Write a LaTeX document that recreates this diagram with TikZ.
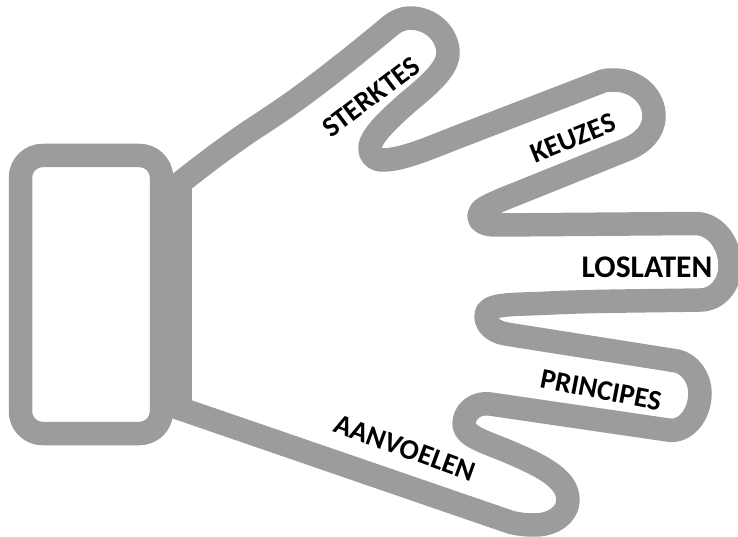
\documentclass[tikz,border=0pt]{standalone}
\usepackage{fontspec}
\setmainfont{Carlito}
\definecolor{handgray}{RGB}{155,157,155}
\tikzset{
  outline/.style={draw=handgray,line width=23.5pt,line join=round,line cap=butt},
  lbl/.style={font=\bfseries\fontsize{28.5}{29}\selectfont,text=black,inner sep=0pt},
}
\begin{document}
\begin{tikzpicture}[x=1pt,y=-1pt]
\useasboundingbox (0,0) rectangle (738,537);
\draw[outline,rounded corners=22pt] (20.5,155.5) rectangle (161.5,433.5);
\fill[handgray] (150,175) rectangle (192,412);
\draw[outline] (170,191) -- (180,183)
 .. controls (200,167) and (225,148) .. (250,131)
 .. controls (270,118) and (285,108) .. (300,97)
 .. controls (330,75) and (365,47) .. (390,26)
 .. controls (396,21) and (403,18) .. (410,18)
 .. controls (432,18) and (448,35) .. (448,53)
 .. controls (448,70) and (425,88) .. (407,103)
 .. controls (395,114) and (370,135) .. (370,148)
 .. controls (370,156) and (375,160) .. (383,160)
 .. controls (400,160) and (425,150) .. (450,140)
 -- (603,81)
 .. controls (607,80) and (610,80) .. (614,80)
 .. controls (637,80) and (654,97) .. (654,116)
 .. controls (654,132) and (642,143) .. (628,149)
 -- (501,200)
 .. controls (488,206) and (479,209) .. (479,216)
 .. controls (479,222) and (485,225) .. (497,225)
 -- (695,223.5)
 .. controls (715,223.5) and (730,243) .. (730,266)
 .. controls (730,285) and (717,300) .. (700,300)
 .. controls (640,301) and (590,301) .. (550,303)
 .. controls (510,305) and (486,303) .. (486,316)
 .. controls (486,326) and (495,332) .. (506,334)
 -- (677,361)
 .. controls (690,364) and (700,378) .. (700,393)
 .. controls (700,415) and (685,433) .. (668,430)
 -- (490,404)
 .. controls (475,402) and (464,412) .. (464,424)
 .. controls (464,436) and (485,442) .. (507,451)
 .. controls (540,465) and (568,478) .. (568,500)
 .. controls (568,515) and (552,525) .. (535,525)
 .. controls (525,525) and (515,524) .. (507,521)
 -- (168,404.5);
\node[lbl,rotate=37] (a) at (371,97) {STERKTES};
\node[lbl,rotate=22] (b) at (573,138) {KEUZES};
\node[lbl,font=\bfseries\fontsize{31.5}{32}\selectfont] (c) at (647,267) {LOSLATEN};
\node[lbl,rotate=-11] (d) at (601,390) {PRINCIPES};
\node[lbl,rotate=-20] (e) at (405,448) {AANVOELEN};
\end{tikzpicture}
\end{document}
